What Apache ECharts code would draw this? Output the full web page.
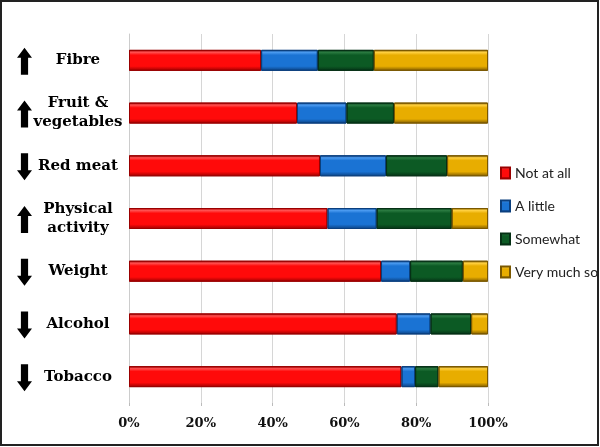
<!DOCTYPE html>
<html>
<head>
<meta charset="utf-8">
<script src="https://cdn.jsdelivr.net/npm/echarts@6/dist/echarts.min.js"></script>
<style>
  html, body { margin: 0; padding: 0; background: #fff; }
  #chart { width: 600px; height: 447px; }
</style>
</head>
<body>
<div id="chart"></div>
<script>
// rows top to bottom
let categories = ['Fibre', 'Fruit &\nvegetables', 'Red meat', 'Physical\nactivity', 'Weight', 'Alcohol', 'Tobacco'];
let directions = ['up', 'up', 'down', 'up', 'down', 'down', 'down'];
let notAtAll = [36.8, 46.8, 53.2, 55.3, 70.2, 74.6, 75.9];
let aLittle = [15.8, 13.8, 18.4, 13.7, 8.1, 9.4, 3.8];
let somewhat = [15.6, 13.2, 17.0, 20.9, 14.7, 11.3, 6.5];
let veryMuch = [31.8, 26.2, 11.4, 10.1, 7.0, 4.7, 13.8];
let xTicks = [0, 20, 40, 60, 80, 100];

// bevel-ish gradient, like the old excel 3d bars
function bevel(light, main, dark) {
  return {
    color: {
      type: 'linear', x: 0, y: 0, x2: 0, y2: 1,
      colorStops: [
        {offset: 0, color: dark},
        {offset: 0.12, color: light},
        {offset: 0.25, color: main},
        {offset: 0.78, color: main},
        {offset: 1, color: dark}
      ]
    },
    borderColor: dark,
    borderWidth: 1
  };
}

function bar(name, data, style) {
  return {
    name: name,
    type: 'bar',
    stack: 'total',
    barWidth: 21,
    data: data,
    itemStyle: style
  };
}

let chart = echarts.init(document.getElementById('chart'));

let option = {
  animation: false,
  backgroundColor: '#fff',
  grid: {left: 129, right: 112, top: 34, bottom: 44},
  legend: {
    orient: 'vertical',
    left: 500,
    top: 164,
    padding: 0,
    itemWidth: 9,
    itemHeight: 11,
    itemGap: 15,
    icon: 'rect',
    textStyle: {fontFamily: 'Lato', fontSize: 14, lineHeight: 18, color: '#222'},
    data: ['Not at all', 'A little', 'Somewhat', 'Very much so']
  },
  xAxis: {
    type: 'value',
    min: 0,
    max: 100,
    interval: 20,
    axisLine: {show: false},
    axisTick: {show: true, length: 3, lineStyle: {color: '#bbb'}},
    splitLine: {lineStyle: {color: '#d6d6d6'}},
    axisLabel: {
      margin: 14,
      formatter: v => xTicks.indexOf(v) >= 0 ? v + '%' : '',
      fontFamily: 'DejaVu Serif',
      fontWeight: 'bold',
      fontSize: 13,
      color: '#111'
    }
  },
  yAxis: {
    type: 'category',
    inverse: true,
    data: categories,
    axisLine: {show: true, lineStyle: {color: '#ccc'}},
    axisTick: {show: false},
    axisLabel: {
      margin: 51,
      align: 'center',
      fontFamily: 'DejaVu Serif',
      fontWeight: 'bold',
      fontSize: 15,
      lineHeight: 19,
      color: '#000'
    }
  },
  series: [
    bar('Not at all', notAtAll, bevel('#ff5050', '#ff0a0a', '#9a0000')),
    bar('A little', aLittle, bevel('#4a9af0', '#1a73d4', '#0b3f7e')),
    bar('Somewhat', somewhat, bevel('#2a7a40', '#0c5a24', '#053015')),
    bar('Very much so', veryMuch, bevel('#ffd040', '#e8ad00', '#7a5800'))
  ],
  graphic: [{
    id: 'frame',
    type: 'rect',
    shape: {x: 1, y: 1, width: 597, height: 444},
    style: {fill: null, stroke: '#222', lineWidth: 2},
    z: 100
  }]
};

chart.setOption(option);

// arrows next to the row labels
let arrows = categories.map((c, i) => {
  let cx = 24.5;
  let cy = chart.convertToPixel({yAxisIndex: 0}, i) + 1;
  let s = directions[i] === 'up' ? 1 : -1;
  let pts = [
    [cx, cy - 13.5 * s],
    [cx + 7.5, cy - 3.5 * s],
    [cx + 3.6, cy - 3.5 * s],
    [cx + 3.6, cy + 13.5 * s],
    [cx - 3.6, cy + 13.5 * s],
    [cx - 3.6, cy - 3.5 * s],
    [cx - 7.5, cy - 3.5 * s]
  ];
  return {
    id: 'arrow' + i,
    type: 'polygon',
    shape: {points: pts},
    style: {fill: '#000'}
  };
});
chart.setOption({graphic: arrows});
</script>
</body>
</html>
